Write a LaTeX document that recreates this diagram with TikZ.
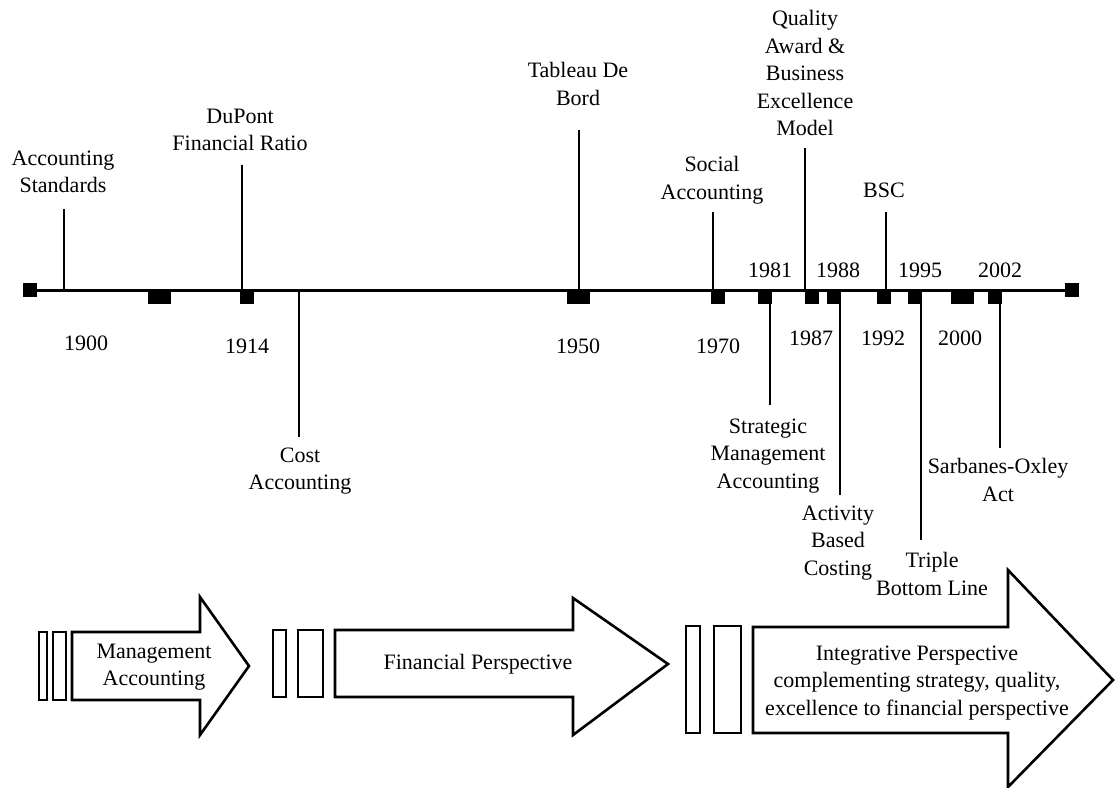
\documentclass[tikz,border=0pt]{standalone}
\usepackage{fontspec}
\setmainfont{Liberation Serif}
\usetikzlibrary{positioning}
\tikzset{
  evlabel/.style={align=center, inner sep=0pt, font=\fontsize{22}{27.5}\selectfont},
  yearlabel/.style={inner sep=0pt, font=\fontsize{22}{26}\selectfont},
  tickbox/.style={fill=black, draw=none, inner sep=0pt, minimum height=14pt, minimum width=#1},
  stem/.style={line width=1.6pt},
  axisline/.style={line width=3pt},
  phasearrow/.style={line width=2.6pt, line join=miter, fill=white},
  phasebar/.style={line width=2.4pt}
}
\begin{document}
\begin{tikzpicture}[x=1pt, y=-1pt]
  \useasboundingbox (0,0) rectangle (1115,787);

  % time axis
  \coordinate (axL) at (30,290);
  \coordinate (axR) at (1072,290);
  \draw[axisline] (axL) -- (axR);
  \node[tickbox=14pt] (endL) at (axL) {};
  \node[tickbox=14pt] (endR) at (axR) {};
  \foreach \tx/\tw/\tn in {159/23pt/ta, 247/14pt/tb, 578/23pt/tc, 718/14pt/td, 765/14pt/te,
                           812/14pt/tf, 834/14pt/tg, 884/14pt/th, 915/14pt/ti, 962/23pt/tj, 995/14pt/tk}
    \node[tickbox=\tw, anchor=north] (\tn) at (\tx,290) {};

  % years
  \node[yearlabel] (y1900) at (86,343) {1900};
  \node[yearlabel] (y1914) at (247,346) {1914};
  \node[yearlabel] (y1950) at (578,346) {1950};
  \node[yearlabel] (y1970) at (718,346) {1970};
  \node[yearlabel] (y1981) at (770,270) {1981};
  \node[yearlabel] (y1987) at (811,338) {1987};
  \node[yearlabel] (y1988) at (838,270) {1988};
  \node[yearlabel] (y1992) at (883,338) {1992};
  \node[yearlabel] (y1995) at (920,270) {1995};
  \node[yearlabel] (y2000) at (960,338) {2000};
  \node[yearlabel] (y2002) at (1000,270) {2002};

  % events above the axis
  \node[evlabel] (accstd) at (63,172) {Accounting\\Standards};
  \node[evlabel] (dupont) at (240,130) {DuPont\\Financial Ratio};
  \node[evlabel] (tableau) at (578,84) {Tableau De\\Bord};
  \node[evlabel] (social) at (712,180) {Social\\Accounting};
  \node[evlabel] (quality) at (805,73) {Quality\\Award \&\\Business\\Excellence\\Model};
  \node[evlabel] (bsc) at (884,190) {BSC};

  % events below the axis
  \node[evlabel] (cost) at (300,471) {Cost\\Accounting};
  \node[evlabel] (sma) at (768,456) {Strategic\\Management\\Accounting};
  \node[evlabel] (abc) at (838,543) {Activity\\Based\\Costing};
  \node[evlabel] (tbl) at (932,574) {Triple\\Bottom Line};
  \node[evlabel] (sox) at (998,480) {Sarbanes-Oxley\\Act};

  % stems
  \coordinate (sAccTop) at (64,209);   \coordinate (sAccBot) at (64,290);
  \coordinate (sDupTop) at (242,165);  \coordinate (sDupBot) at (242,290);
  \coordinate (sTabTop) at (579,130);  \coordinate (sTabBot) at (579,290);
  \coordinate (sSocTop) at (713,212);  \coordinate (sSocBot) at (713,290);
  \coordinate (sQuaTop) at (805,148);  \coordinate (sQuaBot) at (805,290);
  \coordinate (sBscTop) at (886,212);  \coordinate (sBscBot) at (886,290);
  \coordinate (sCosTop) at (299,290);  \coordinate (sCosBot) at (299,437);
  \coordinate (sSmaTop) at (770,290);  \coordinate (sSmaBot) at (770,405);
  \coordinate (sAbcTop) at (840,290);  \coordinate (sAbcBot) at (840,495);
  \coordinate (sTblTop) at (921,290);  \coordinate (sTblBot) at (921,540);
  \coordinate (sSoxTop) at (1000,290); \coordinate (sSoxBot) at (1000,448);
  \foreach \sn in {Acc,Dup,Tab,Soc,Qua,Bsc,Cos,Sma,Abc,Tbl,Sox}
    \draw[stem] (s\sn Top) -- (s\sn Bot);

  % phase arrows
  \draw[phasebar] (39,632) rectangle (47,700);
  \draw[phasebar] (53,632) rectangle (66,700);
  \draw[phasearrow] (72,632) -- (200,632) -- (200,597) -- (249,666) -- (200,735) -- (200,700) -- (72,700) -- cycle;
  \node[evlabel] (mgmt) at (154,667) {Management\\Accounting};

  \draw[phasebar] (273,630) rectangle (286,697);
  \draw[phasebar] (298,630) rectangle (323,697);
  \draw[phasearrow] (335,630) -- (573,630) -- (573,598) -- (668,664) -- (573,735) -- (573,697) -- (335,697) -- cycle;
  \node[evlabel] (fin) at (478,664) {Financial Perspective};

  \draw[phasebar] (686,626) rectangle (700,733);
  \draw[phasebar] (714,626) rectangle (741,733);
  \draw[phasearrow] (753,627) -- (1008,627) -- (1008,570) -- (1113,680) -- (1008,787) -- (1008,733) -- (753,733) -- cycle;
  \node[evlabel] (integ) at (917,683) {Integrative Perspective\\complementing strategy, quality,\\excellence to financial perspective};
\end{tikzpicture}
\end{document}
